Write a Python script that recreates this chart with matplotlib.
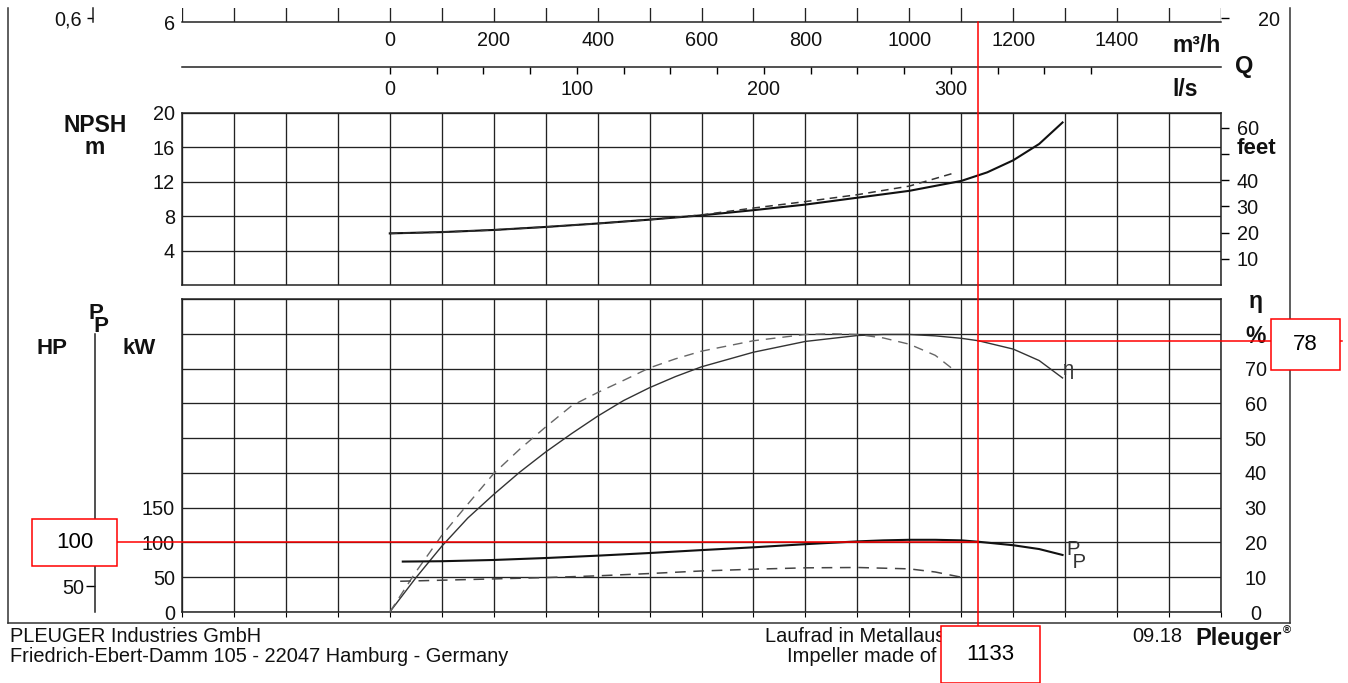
import numpy as np
import matplotlib
matplotlib.use("Agg")
import matplotlib.pyplot as plt
from matplotlib.patches import Rectangle
from matplotlib.lines import Line2D
from matplotlib.transforms import blended_transform_factory

plt.rcParams['font.family'] = ['Liberation Sans', 'DejaVu Sans']

# ---- scales ----
q_ticks = np.arange(-400, 1601, 100)            # m3/h grid
q_labels = [0, 200, 400, 600, 800, 1000, 1200, 1400]
ls_ticks = np.arange(0, 376, 25)                # l/s ticks
ls_labels = [0, 100, 200, 300]
npsh_ticks = [4, 8, 12, 16, 20]
feet_ticks = [10, 20, 30, 40, 50, 60]
eta_ticks = np.arange(0, 91, 10)
kw_ticks = [0, 50, 100, 150]
hp_ticks = [50]

# ---- NPSH (m) ----
npsh_q = [0, 100, 200, 300, 400, 500, 600, 700, 800, 900, 1000, 1100, 1150, 1200, 1250, 1295]
npsh_m = [6.0, 6.15, 6.4, 6.75, 7.15, 7.6, 8.1, 8.7, 9.35, 10.15, 10.95, 12.1, 13.1, 14.5, 16.4, 18.9]
npsh_q_alt = [0, 100, 200, 300, 400, 500, 600, 700, 800, 900, 1000, 1085]
npsh_m_alt = [6.0, 6.15, 6.4, 6.75, 7.15, 7.6, 8.15, 8.95, 9.7, 10.5, 11.5, 13.0]

# ---- efficiency (%) ----
eta_q = [0, 50, 100, 150, 200, 250, 300, 350, 400, 450, 500, 550, 600, 700, 800, 900, 950,
         1000, 1050, 1100, 1133, 1200, 1250, 1295]
eta_pct = [0, 9.8, 18.9, 27, 33.8, 40.2, 46, 51.3, 56.3, 60.8, 64.5, 67.7, 70.5, 74.7, 77.8,
           79.5, 79.8, 79.8, 79.4, 78.7, 78, 75.6, 72.3, 67.3]
eta_q_alt = [0, 50, 100, 150, 200, 250, 300, 350, 400, 450, 500, 550, 600, 700, 800, 850, 900,
             950, 1000, 1050, 1085]
eta_pct_alt = [0, 11.5, 22, 31, 39.8, 46.8, 53.2, 59.3, 63.1, 66.6, 70.2, 72.8, 75, 78, 79.8,
               80, 79.8, 78.8, 77, 73.8, 69.7]

# ---- shaft power (kW) ----
pow_q = [25, 100, 200, 300, 400, 500, 600, 700, 800, 900, 950, 1000, 1050, 1100, 1133, 1200, 1250, 1295]
pow_kw = [72.5, 73, 74.8, 77.6, 81, 84.8, 89, 93, 97.5, 101.5, 103, 103.8, 103.8, 103, 101, 96, 90.5, 82]
pow_q_alt = [20, 100, 200, 300, 400, 500, 600, 700, 800, 900, 1000, 1050, 1100]
pow_kw_alt = [44.2, 45.7, 47.6, 49.5, 52, 55.3, 59, 61.5, 63.5, 64, 62, 57.5, 50]

# ---- duty point ----
op_q = 1133
op_eta = 78
op_kw = 100

W, H = 1348, 683
TXT = '#111111'
GRID = dict(color='#222222', linewidth=0.95)
FS = 14.3
BOLD = 16.5
FOOT = 14.4


def rect(x0, y0, x1, y1):
    return [x0 / W, 1 - y1 / H, (x1 - x0) / W, (y1 - y0) / H]


def ftext(x, y, s, **kw):
    kw.setdefault('color', TXT)
    kw.setdefault('va', 'center')
    return fig.text(x / W, 1 - y / H, s, **kw)


def only_spines(ax, keep):
    for name, sp in ax.spines.items():
        sp.set_visible(name in keep)
        sp.set_linewidth(1.1)
        sp.set_color('#222222')


fig = plt.figure(figsize=(W / 100, H / 100), dpi=100)

# bottom strip of the head panel + m3/h scale
ax_h = fig.add_axes(rect(182, 8, 1221, 22))
ax_h.set_xlim(-400, 1600)
ax_h.set_ylim(6, 6.34)
only_spines(ax_h, ['bottom'])
ax_h.set_xticks(q_ticks)
ax_h.set_xticklabels([str(v) if v in q_labels else '' for v in q_ticks])
ax_h.tick_params(axis='x', length=0, pad=6.5, labelsize=FS, labelcolor=TXT)
ax_h.grid(axis='x', **GRID)
ax_h.set_yticks([6])
ax_h.set_yticklabels(['6'])
ax_h.tick_params(axis='y', length=0, pad=5, labelsize=FS, labelcolor=TXT)

ax_hr = ax_h.twinx()
only_spines(ax_hr, [])
ax_hr.set_ylim(6 / 0.3048, 6.34 / 0.3048)
ax_hr.set_yticks([20])
ax_hr.tick_params(axis='y', length=5.8, width=1.0, pad=21, labelsize=FS, labelcolor=TXT)

ax_06 = ax_h.twinx()
only_spines(ax_06, ['left'])
ax_06.spines['left'].set_position(('outward', 64))
ax_06.yaxis.set_ticks_position('left')
ax_06.set_ylim(0.58, 0.65)
ax_06.set_yticks([0.6])
ax_06.set_yticklabels(['0,6'])
ax_06.tick_params(axis='y', length=4.3, width=1.0, pad=3.5, labelsize=FS, labelcolor=TXT)

# l/s scale
ax_ls = fig.add_axes(rect(182, 55, 1221, 67))
ax_ls.patch.set_visible(False)
ax_ls.set_xlim(-400 / 3.6, 1600 / 3.6)
only_spines(ax_ls, ['bottom'])
ax_ls.set_xticks(ls_ticks)
ax_ls.set_xticklabels([str(v) if v in ls_labels else '' for v in ls_ticks])
ax_ls.tick_params(axis='x', direction='out', length=5, width=1.0, pad=4.5,
                  labelsize=FS, labelcolor=TXT)
ax_ls.set_yticks([])

# NPSH panel
ax_n = fig.add_axes(rect(182, 113, 1221, 285))
ax_n.set_xlim(-400, 1600)
ax_n.set_ylim(0, 20)
only_spines(ax_n, ['left', 'right', 'top', 'bottom'])
ax_n.set_xticks(q_ticks)
ax_n.set_xticklabels([])
ax_n.set_yticks(npsh_ticks)
ax_n.tick_params(axis='both', length=0, labelsize=FS, labelcolor=TXT)
ax_n.tick_params(axis='y', pad=5)
ax_n.grid(True, **GRID)
ax_n.plot(npsh_q, npsh_m, color='#111111', lw=1.5, zorder=3)
ax_n.plot(npsh_q_alt, npsh_m_alt, color='#333333', lw=1.1, ls=(0, (5, 3.5)), zorder=3)

ax_ft = ax_n.twinx()
only_spines(ax_ft, [])
ax_ft.set_ylim(0, 20 / 0.3048)
ax_ft.set_yticks(feet_ticks)
ax_ft.set_yticklabels([str(v) if v != 50 else '' for v in feet_ticks])
ax_ft.tick_params(axis='y', length=5.8, width=1.0, pad=5.5, labelsize=FS, labelcolor=TXT)

# efficiency / power panel
ax_e = fig.add_axes(rect(182, 299, 1221, 612))
ax_e.set_xlim(-400, 1600)
ax_e.set_ylim(0, 90)
only_spines(ax_e, ['left', 'right', 'top', 'bottom'])
ax_e.set_xticks(q_ticks)
ax_e.set_xticklabels([])
ax_e.grid(True, **GRID)
ax_e.plot(eta_q, eta_pct, color='#333333', lw=1.0, zorder=3)
ax_e.plot(eta_q_alt, eta_pct_alt, color='#666666', lw=1.0, ls=(0, (7, 5)), zorder=3)
ax_e.annotate('η', xy=(eta_q[-1], eta_pct[-1]), xytext=(0.5, 6), textcoords='offset points',
              ha='left', va='center', fontsize=14.5, color='#333333')

ax_kw = ax_e.twinx()
only_spines(ax_kw, [])
ax_kw.yaxis.tick_left()
ax_kw.set_ylim(0, 450)
ax_kw.set_yticks(kw_ticks)
ax_kw.tick_params(axis='y', length=0, pad=5, labelsize=FS, labelcolor=TXT)
ax_kw.plot(pow_q, pow_kw, color='#111111', lw=1.5, zorder=3)
ax_kw.plot(pow_q_alt, pow_kw_alt, color='#444444', lw=1.1, ls=(0, (7, 5)), zorder=3)
ax_kw.annotate('P\n P', xy=(pow_q[-1], pow_kw[-1]), xytext=(3, -0.8), textcoords='offset points',
               ha='left', va='center', fontsize=14.5, linespacing=0.62, color='#333333')

ax_hp = ax_e.twinx()
only_spines(ax_hp, ['left'])
ax_hp.spines['left'].set_position(('outward', 62.6))
ax_hp.yaxis.set_ticks_position('left')
ax_hp.set_ylim(0, 450 / 0.7457)
ax_hp.spines['left'].set_bounds(0, 400 / 0.7457)
ax_hp.set_yticks(hp_ticks)
ax_hp.tick_params(axis='y', length=6.5, width=1.0, pad=1.5, labelsize=FS, labelcolor=TXT)

ax_e.yaxis.tick_right()
ax_e.set_yticks(eta_ticks)
ax_e.set_yticklabels([str(v) for v in eta_ticks[:-2]] + ['%', 'η'])
ax_e.tick_params(axis='y', length=0, pad=25, labelsize=FS, labelcolor=TXT)
for lbl in ax_e.get_yticklabels():
    lbl.set_horizontalalignment('center')
for lbl in ax_e.get_yticklabels()[-2:]:
    lbl.set_fontweight('bold')
    lbl.set_fontsize(BOLD)

# outer frame
for xs, ys in [((8, 8), (8, 623)), ((8, 1290), (623, 623)), ((1290, 1290), (8, 623))]:
    fig.add_artist(Line2D([x / W for x in xs], [1 - y / H for y in ys],
                          transform=fig.transFigure, color='#333333', lw=1.1))

# axis titles
ftext(1172, 45, 'm³/h', fontsize=BOLD, fontweight='bold')
ftext(1235, 66, 'Q', fontsize=BOLD + 0.5, fontweight='bold')
ftext(1172, 89, 'l/s', fontsize=BOLD, fontweight='bold')
ftext(95, 125, 'NPSH', fontsize=BOLD, fontweight='bold', ha='center')
ftext(95, 148, 'm', fontsize=BOLD, fontweight='bold', ha='center')
ftext(1237, 149, 'feet', fontsize=BOLD - 0.5, fontweight='bold')
ftext(37, 348, 'HP', fontsize=BOLD - 0.5, fontweight='bold')
ftext(122, 348, 'kW', fontsize=BOLD - 0.5, fontweight='bold')
ftext(88, 320, 'P\n P', fontsize=BOLD - 0.5, fontweight='bold', linespacing=0.55)

# footer
ftext(10, 636, 'PLEUGER Industries GmbH', fontsize=FOOT)
ftext(10, 657, 'Friedrich-Ebert-Damm 105 - 22047 Hamburg - Germany', fontsize=FOOT)
ftext(765, 636, 'Laufrad in Metallaus', fontsize=FOOT)
ftext(787, 657, 'Impeller made of', fontsize=FOOT)
ftext(1132, 636, '09.18', fontsize=FOOT)
ftext(1195, 639, 'Pleuger', fontsize=17, fontweight='bold')
ftext(1283, 631, '®', fontsize=8, fontweight='bold')

# duty point marking
to_fig = fig.transFigure.inverted()
x_op = to_fig.transform(ax_e.transData.transform((op_q, 0)))[0]

v_tr = blended_transform_factory(ax_e.transData, fig.transFigure)
fig.add_artist(Line2D([op_q, op_q], [1 - 22 / H, 1 - 626 / H], transform=v_tr,
                      color='red', lw=1.1, zorder=9))

e_tr = blended_transform_factory(fig.transFigure, ax_e.transData)
fig.add_artist(Line2D([x_op, 1342 / W], [op_eta, op_eta], transform=e_tr,
                      color='red', lw=1.1, zorder=9))

p_tr = blended_transform_factory(fig.transFigure, ax_kw.transData)
fig.add_artist(Line2D([117 / W, x_op], [op_kw, op_kw], transform=p_tr,
                      color='red', lw=1.1, zorder=9))

boxes = [((32, 519, 117, 566), str(op_kw)),
         ((1271, 319, 1340, 370), str(op_eta)),
         ((941, 626, 1040, 683), str(op_q))]
for (x0, y0, x1, y1), label in boxes:
    fig.add_artist(Rectangle((x0 / W, 1 - y1 / H), (x1 - x0) / W, (y1 - y0) / H,
                             transform=fig.transFigure, facecolor='white',
                             edgecolor='red', lw=1.1, zorder=10))
    ftext((x0 + x1) / 2, (y0 + y1) / 2, label, fontsize=16, ha='center',
          color='black', zorder=11)

fig.savefig('out.png', dpi=100)
